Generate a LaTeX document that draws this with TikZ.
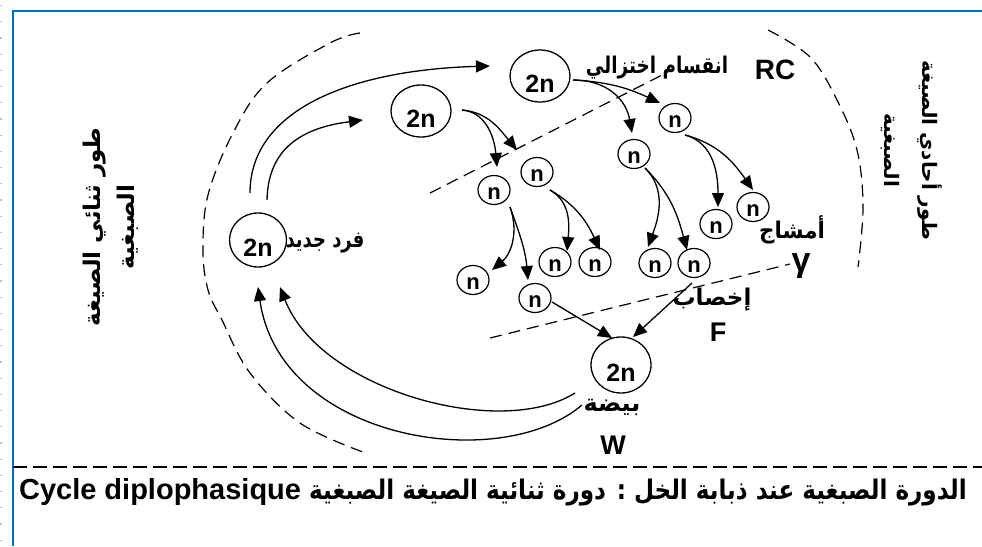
\documentclass[tikz,border=0pt]{standalone}
\usepackage{fontspec}
\usepackage{graphicx}
\setmainfont{Liberation Sans}
\newfontfamily\arfont[Script=Arabic]{DejaVu Sans}
\TeXXeTstate=1
\usetikzlibrary{arrows.meta,shapes.geometric}
\newcommand{\ARf}{\arfont\bfseries}
\definecolor{frameblue}{RGB}{0,112,192}
\begin{document}
\begin{tikzpicture}[x=1pt,y=-1pt,
  big/.style={ellipse,draw,line width=1.3pt,inner sep=0pt,minimum width=60pt,minimum height=52pt,
    font=\bfseries\fontsize{25}{25}\selectfont,text height=32pt,text depth=0pt},
  sm/.style={ellipse,draw,line width=1.2pt,inner sep=0pt,minimum width=32pt,minimum height=29pt,
    font=\bfseries\fontsize{22}{22}\selectfont,text height=19pt,text depth=0pt},
  arr/.style={line width=1.3pt,-{Triangle[length=14pt,width=12pt]}},
  dsh/.style={line width=1.2pt,dash pattern=on 12pt off 7pt},
  lab/.style={inner sep=0pt,font=\bfseries\fontsize{23}{23}\selectfont},
  lat/.style={inner sep=0pt,font=\bfseries\fontsize{28}{28}\selectfont}]
\useasboundingbox (0,0) rectangle (982,546);
% frame
\draw[gray!50,line width=1.2pt,dash pattern=on 1.2pt off 15pt] (1,5) -- (1,546);
\draw[frameblue,line width=2pt] (13,546) -- (13,11) -- (982,11);
\draw[line width=1.2pt,dash pattern=on 14pt off 6pt] (13,467) -- (982,467);
% big cells
\node[big] (RC2n) at (540,76) {2n};
\node[big] (A2n) at (421,111) {2n};
\node[big,minimum width=57pt,minimum height=54pt] (N2n) at (258,240) {2n};
\node[big,minimum height=56pt] (E2n) at (621,365) {2n};
% small cells
\node[sm] (n1) at (675,118) {n};
\node[sm] (n2) at (634,154) {n};
\node[sm] (n3) at (494,190) {n};
\node[sm] (n4) at (537,172) {n};
\node[sm] (n5) at (716,224) {n};
\node[sm] (n6) at (753,207) {n};
\node[sm] (n7) at (555,262) {n};
\node[sm] (n8) at (595,262) {n};
\node[sm] (n9) at (655,263) {n};
\node[sm] (n10) at (694,263) {n};
\node[sm] (n11) at (473,280) {n};
\node[sm] (n12) at (535,298) {n};
% dashed boundaries
\draw[dsh] plot[smooth,tension=0.6] coordinates {(360,33) (330,43) (267,83) (233,133) (208,195) (203,250) (208,290) (222,320) (250,373) (300,423) (363,452)};
\draw[dsh] plot[smooth,tension=0.6] coordinates {(768,30) (810,57) (837,100) (857,150) (863,207) (858,267)};
\draw[dsh] (430,193) -- (668,72);
\draw[dsh] (490,338) -- (790,264);
% meiosis arrows
\draw[arr] ([shift={(33,4)}]RC2n.center) to[out=-3,in=155] ([shift={(-15,-15)}]n1.center);
\draw[arr] ([shift={(33,4)}]RC2n.center) to[out=0,in=100,looseness=1.1] ([shift={(-2,-21)}]n2.center);
\draw[arr] ([shift={(41,-1)}]A2n.center) to[out=-5,in=95] ([shift={(3,-23)}]n3.center);
\draw[arr] ([shift={(41,-1)}]A2n.center) to[out=-5,in=130] ([shift={(-20,-22)}]n4.center);
\draw[arr] ([shift={(13,18)}]n4.center) to[out=-30,in=85] ([shift={(12,-11)}]n7.center);
\draw[arr] ([shift={(13,18)}]n4.center) to[out=-30,in=115] ([shift={(5,-12)}]n8.center);
\draw[arr] ([shift={(16,17)}]n3.center) to[out=-70,in=40] ([shift={(19,-10)}]n11.center);
\draw[arr] ([shift={(16,17)}]n3.center) to[out=-70,in=95] ([shift={(-7,-18)}]n12.center);
\draw[arr] ([shift={(11,14)}]n2.center) to[out=-45,in=70] ([shift={(-7,-16)}]n9.center);
\draw[arr] ([shift={(11,14)}]n2.center) to[out=-45,in=105] ([shift={(-7,-13)}]n10.center);
\draw[arr] ([shift={(10,17)}]n1.center) to[out=-15,in=90] ([shift={(2,-17)}]n5.center);
\draw[arr] ([shift={(10,17)}]n1.center) to[out=-15,in=125] ([shift={(0,-17)}]n6.center);
% fertilisation
\draw[arr] ([shift={(17,4)}]n12.center) -- ([shift={(-9,-27)}]E2n.center);
\draw[arr] ([shift={(-2,20)}]n10.center) -- ([shift={(12,-28)}]E2n.center);
% cycle arrows
\draw[arr] ([shift={(-8,-47)}]N2n.center) .. controls (250,110) and (350,70) .. ([shift={(-50,-10)}]RC2n.center);
\draw[arr] ([shift={(9,-40)}]N2n.center) .. controls (268,150) and (300,128) .. ([shift={(-58,9)}]A2n.center);
\draw[arr] ([shift={(-46,28)}]E2n.center) .. controls (500,440) and (320,390) .. ([shift={(22,47)}]N2n.center);
\draw[arr] ([shift={(-39,40)}]E2n.center) .. controls (500,475) and (280,440) .. ([shift={(0,47)}]N2n.center);
% labels
\node[lab] (tRCar) at (657,68) {\scalebox{0.8}[1]{\ARf\beginR انقسام اختزالي\endR}};
\node[lat] (tRC) at (775,70) {RC};
\node[lab] (tgam) at (792,230) {\scalebox{0.93}[1]{\ARf\beginR أمشاج\endR}};
\node[lat,font=\bfseries\fontsize{34}{34}\selectfont] (tg) at (801,266) {γ};
\node[lab] (tF) at (712,300) {\ARf\beginR إخصاب\endR};
\node[lat,font=\bfseries\fontsize{27}{27}\selectfont] (tFl) at (718,332) {F};
\node[lab,font=\bfseries\fontsize{24}{24}\selectfont] (tW) at (612,407) {\ARf\beginR بيضة\endR};
\node[lat,font=\bfseries\fontsize{27}{27}\selectfont] (tWl) at (613,445) {W};
\node[lab] (tnew) at (325,243) {\scalebox{0.78}[1]{\ARf\beginR فرد جديد\endR}};
\node[lab,rotate=90,align=center,font=\bfseries\fontsize{23}{34}\selectfont] (tleft) at (111,227) {{\ARf\beginR طور ثنائي الصيغة\endR}\\{\ARf\beginR الصبغية\endR}};
\node[lab,rotate=-90,align=center,font=\bfseries\fontsize{20}{38}\selectfont] (tright) at (912,150) {{\ARf\beginR طور أحادي الصيغة\endR}\\{\ARf\beginR الصبغية\endR}};
\node[lat,font=\bfseries\fontsize{29}{29}\selectfont] (cap) at (493,492) {Cycle diplophasique {\fontsize{27}{27}\selectfont\scalebox{0.855}[1]{\ARf\beginR الدورة الصبغية عند ذبابة الخل : دورة ثنائية الصيغة الصبغية\endR}}};
\end{tikzpicture}
\end{document}
